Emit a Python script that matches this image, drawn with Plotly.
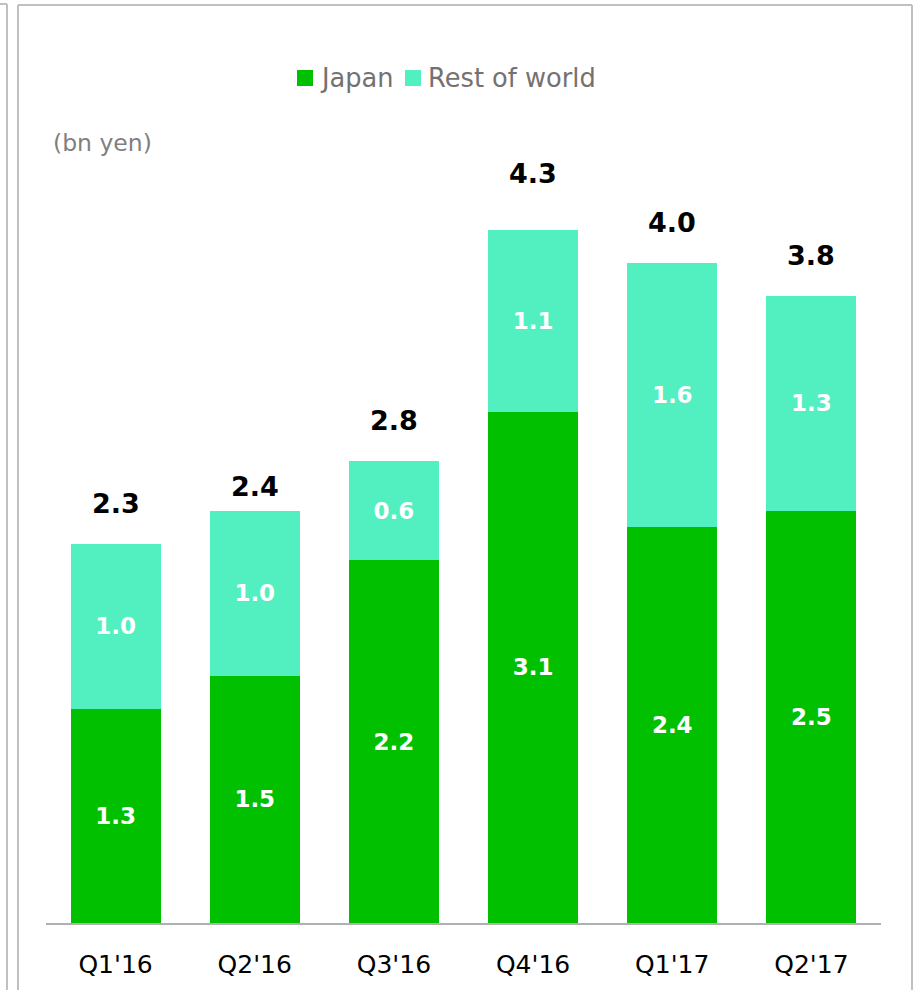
import plotly.graph_objects as go

# Quarterly revenue split, billions of yen
quarters = ["Q1'16", "Q2'16", "Q3'16", "Q4'16", "Q1'17", "Q2'17"]
japan = [1.3, 1.5, 2.2, 3.1, 2.4, 2.5]
rest_of_world = [1.0, 1.0, 0.6, 1.1, 1.6, 1.3]
totals = [2.3, 2.4, 2.8, 4.3, 4.0, 3.8]

JAPAN_COLOR = "#00C000"
ROW_COLOR = "#52F0C0"
FONT = "DejaVu Sans"

W, H = 916, 990
M_L, M_R, M_T, M_B = 46, 35, 131, 67
PW, PH = W - M_L - M_R, H - M_T - M_B


def px_x(x):
    return (x - M_L) / PW


def px_y(y):
    return (H - M_B - y) / PH


fig = go.Figure()

for name, vals, color in [("Japan", japan, JAPAN_COLOR),
                          ("Rest of world", rest_of_world, ROW_COLOR)]:
    fig.add_trace(go.Bar(
        x=quarters, y=vals, name=name,
        marker=dict(color=color, line=dict(width=0)),
        text=[f"{v:.1f}" for v in vals],
        textposition="inside", insidetextanchor="middle",
        textangle=0, constraintext="none",
        textfont=dict(family=FONT, size=23, color="white", weight="bold"),
        showlegend=False,
        hoverinfo="skip",
    ))

# Stack totals above each bar
for q, t in zip(quarters, totals):
    fig.add_annotation(
        x=q, y=t, xref="x", yref="y", text=f"{t:.1f}",
        showarrow=False, yanchor="bottom", yshift=23,
        font=dict(family=FONT, size=27, color="black", weight="bold"),
    )

# Custom legend row
legend_items = [("Japan", JAPAN_COLOR, 297, 318), ("Rest of world", ROW_COLOR, 405, 426)]
for label, color, sq_x, txt_x in legend_items:
    fig.add_shape(type="rect", xref="paper", yref="paper",
                  x0=px_x(sq_x), x1=px_x(sq_x + 16), y0=px_y(86), y1=px_y(70),
                  fillcolor=color, line=dict(width=0))
    fig.add_annotation(x=px_x(txt_x), y=px_y(78), xref="paper", yref="paper",
                       text=label, showarrow=False, xanchor="left", yanchor="middle",
                       font=dict(family=FONT, size=25.7, color="#767171"))

# Unit note
fig.add_annotation(x=px_x(51), y=px_y(143), xref="paper", yref="paper",
                   text="(bn yen)", showarrow=False, xanchor="left", yanchor="middle",
                   font=dict(family=FONT, size=23.5, color="#7f7f7f"))

# Panel frame lines
frame = dict(color="#c0c0c0", width=2)
fig.add_shape(type="line", xref="paper", yref="paper",
              x0=px_x(18), x1=px_x(18), y0=px_y(995), y1=px_y(5), line=frame)
fig.add_shape(type="line", xref="paper", yref="paper",
              x0=px_x(18), x1=px_x(912), y0=px_y(5), y1=px_y(5), line=frame)
fig.add_shape(type="line", xref="paper", yref="paper",
              x0=px_x(912), x1=px_x(912), y0=px_y(5), y1=px_y(995), line=frame)
fig.add_shape(type="line", xref="paper", yref="paper",
              x0=px_x(7), x1=px_x(7), y0=px_y(995), y1=px_y(4), line=frame)
fig.add_shape(type="line", xref="paper", yref="paper",
              x0=px_x(-5), x1=px_x(7), y0=px_y(4), y1=px_y(4), line=frame)

fig.update_layout(
    width=W, height=H,
    margin=dict(l=M_L, r=M_R, t=M_T, b=M_B),
    barmode="stack", bargap=0.353,
    plot_bgcolor="white", paper_bgcolor="white",
    font=dict(family=FONT),
)
fig.update_xaxes(
    showgrid=False, showline=True, linecolor="#b0b0b0", linewidth=2,
    ticks="", tickfont=dict(family=FONT, size=25, color="black"),
    ticklabelstandoff=18,
)
fig.update_yaxes(range=[0, 4.8], visible=False, showgrid=False, zeroline=False)

fig.write_html("out.html")
